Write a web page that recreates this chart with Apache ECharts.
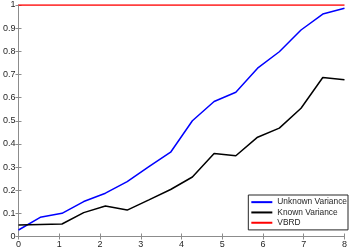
<!DOCTYPE html>
<html><head><meta charset="utf-8">
<script src="https://cdn.jsdelivr.net/npm/echarts@6/dist/echarts.min.js"></script>
<style>html,body{margin:0;padding:0;background:#fff}#c{width:350px;height:251px}</style>
</head><body><div id="c"></div>
<script>
const xValues = [0, 0.533, 1.067, 1.6, 2.133, 2.667, 3.2, 3.733, 4.267, 4.8, 5.333, 5.867, 6.4, 6.933, 7.467, 8];
const unknownVariance = [0.028, 0.083, 0.100, 0.151, 0.187, 0.237, 0.302, 0.364, 0.500, 0.583, 0.623, 0.727, 0.798, 0.892, 0.961, 0.986];
const knownVariance = [0.050, 0.052, 0.054, 0.103, 0.132, 0.114, 0.158, 0.203, 0.257, 0.359, 0.349, 0.429, 0.468, 0.554, 0.687, 0.677];
const vbrd = [1, 1, 1, 1, 1, 1, 1, 1, 1, 1, 1, 1, 1, 1, 1, 1];
const seriesNames = ['Unknown Variance', 'Known Variance', 'VBRD'];
const xTicks = [0, 1, 2, 3, 4, 5, 6, 7, 8];
const yTicks = [0, 0.1, 0.2, 0.3, 0.4, 0.5, 0.6, 0.7, 0.8, 0.9, 1];

const font = 'Liberation Sans, Arial, Helvetica, sans-serif';
const axisColor = '#8c8c8c';
const labelColor = '#262626';
const pair = (ys) => xValues.map((x, i) => [x, ys[i]]);

const chart = echarts.init(document.getElementById('c'));
const common = {
  type: 'value', min: 0,
  axisLine: { show: true, lineStyle: { color: axisColor, width: 1 } },
  axisTick: { show: true, inside: true, length: 3, lineStyle: { color: axisColor } },
  splitLine: { show: false }
};
chart.setOption({
  animation: false,
  grid: { left: 15, right: 2, top: 5, bottom: 14.5, containLabel: false },
  xAxis: [
    Object.assign({}, common, { max: 8, interval: 1, position: 'bottom',
      axisLabel: { fontSize: 9, color: labelColor, fontFamily: font, margin: 4 } }),
    Object.assign({}, common, { max: 8, interval: 1, position: 'top', axisLabel: { show: false } })
  ],
  yAxis: [
    Object.assign({}, common, { max: 1, interval: 0.1, position: 'left',
      axisLabel: { fontSize: 9, color: labelColor, fontFamily: font, margin: 3,
        formatter: v => String(Math.round(v * 10) / 10) } }),
    Object.assign({}, common, { max: 1, interval: 0.1, position: 'right', axisLabel: { show: false } })
  ],
  legend: {
    orient: 'vertical', right: 2, top: 195,
    data: seriesNames,
    icon: 'rect', itemWidth: 21, itemHeight: 2, itemGap: 0,
    padding: [2, 1, 2, 3],
    backgroundColor: '#fff', borderColor: '#262626', borderWidth: 1,
    textStyle: { fontSize: 8.4, color: labelColor, fontFamily: font, lineHeight: 10.3 }
  },
  series: [
    { name: seriesNames[0], type: 'line', data: pair(unknownVariance), showSymbol: false,
      lineStyle: { color: '#0000ff', width: 1.5 }, itemStyle: { color: '#0000ff' } },
    { name: seriesNames[1], type: 'line', data: pair(knownVariance), showSymbol: false,
      lineStyle: { color: '#000000', width: 1.5 }, itemStyle: { color: '#000000' } },
    { name: seriesNames[2], type: 'line', data: pair(vbrd), showSymbol: false,
      lineStyle: { color: '#ff0000', width: 1.5 }, itemStyle: { color: '#ff0000' } }
  ]
});
</script></body></html>
